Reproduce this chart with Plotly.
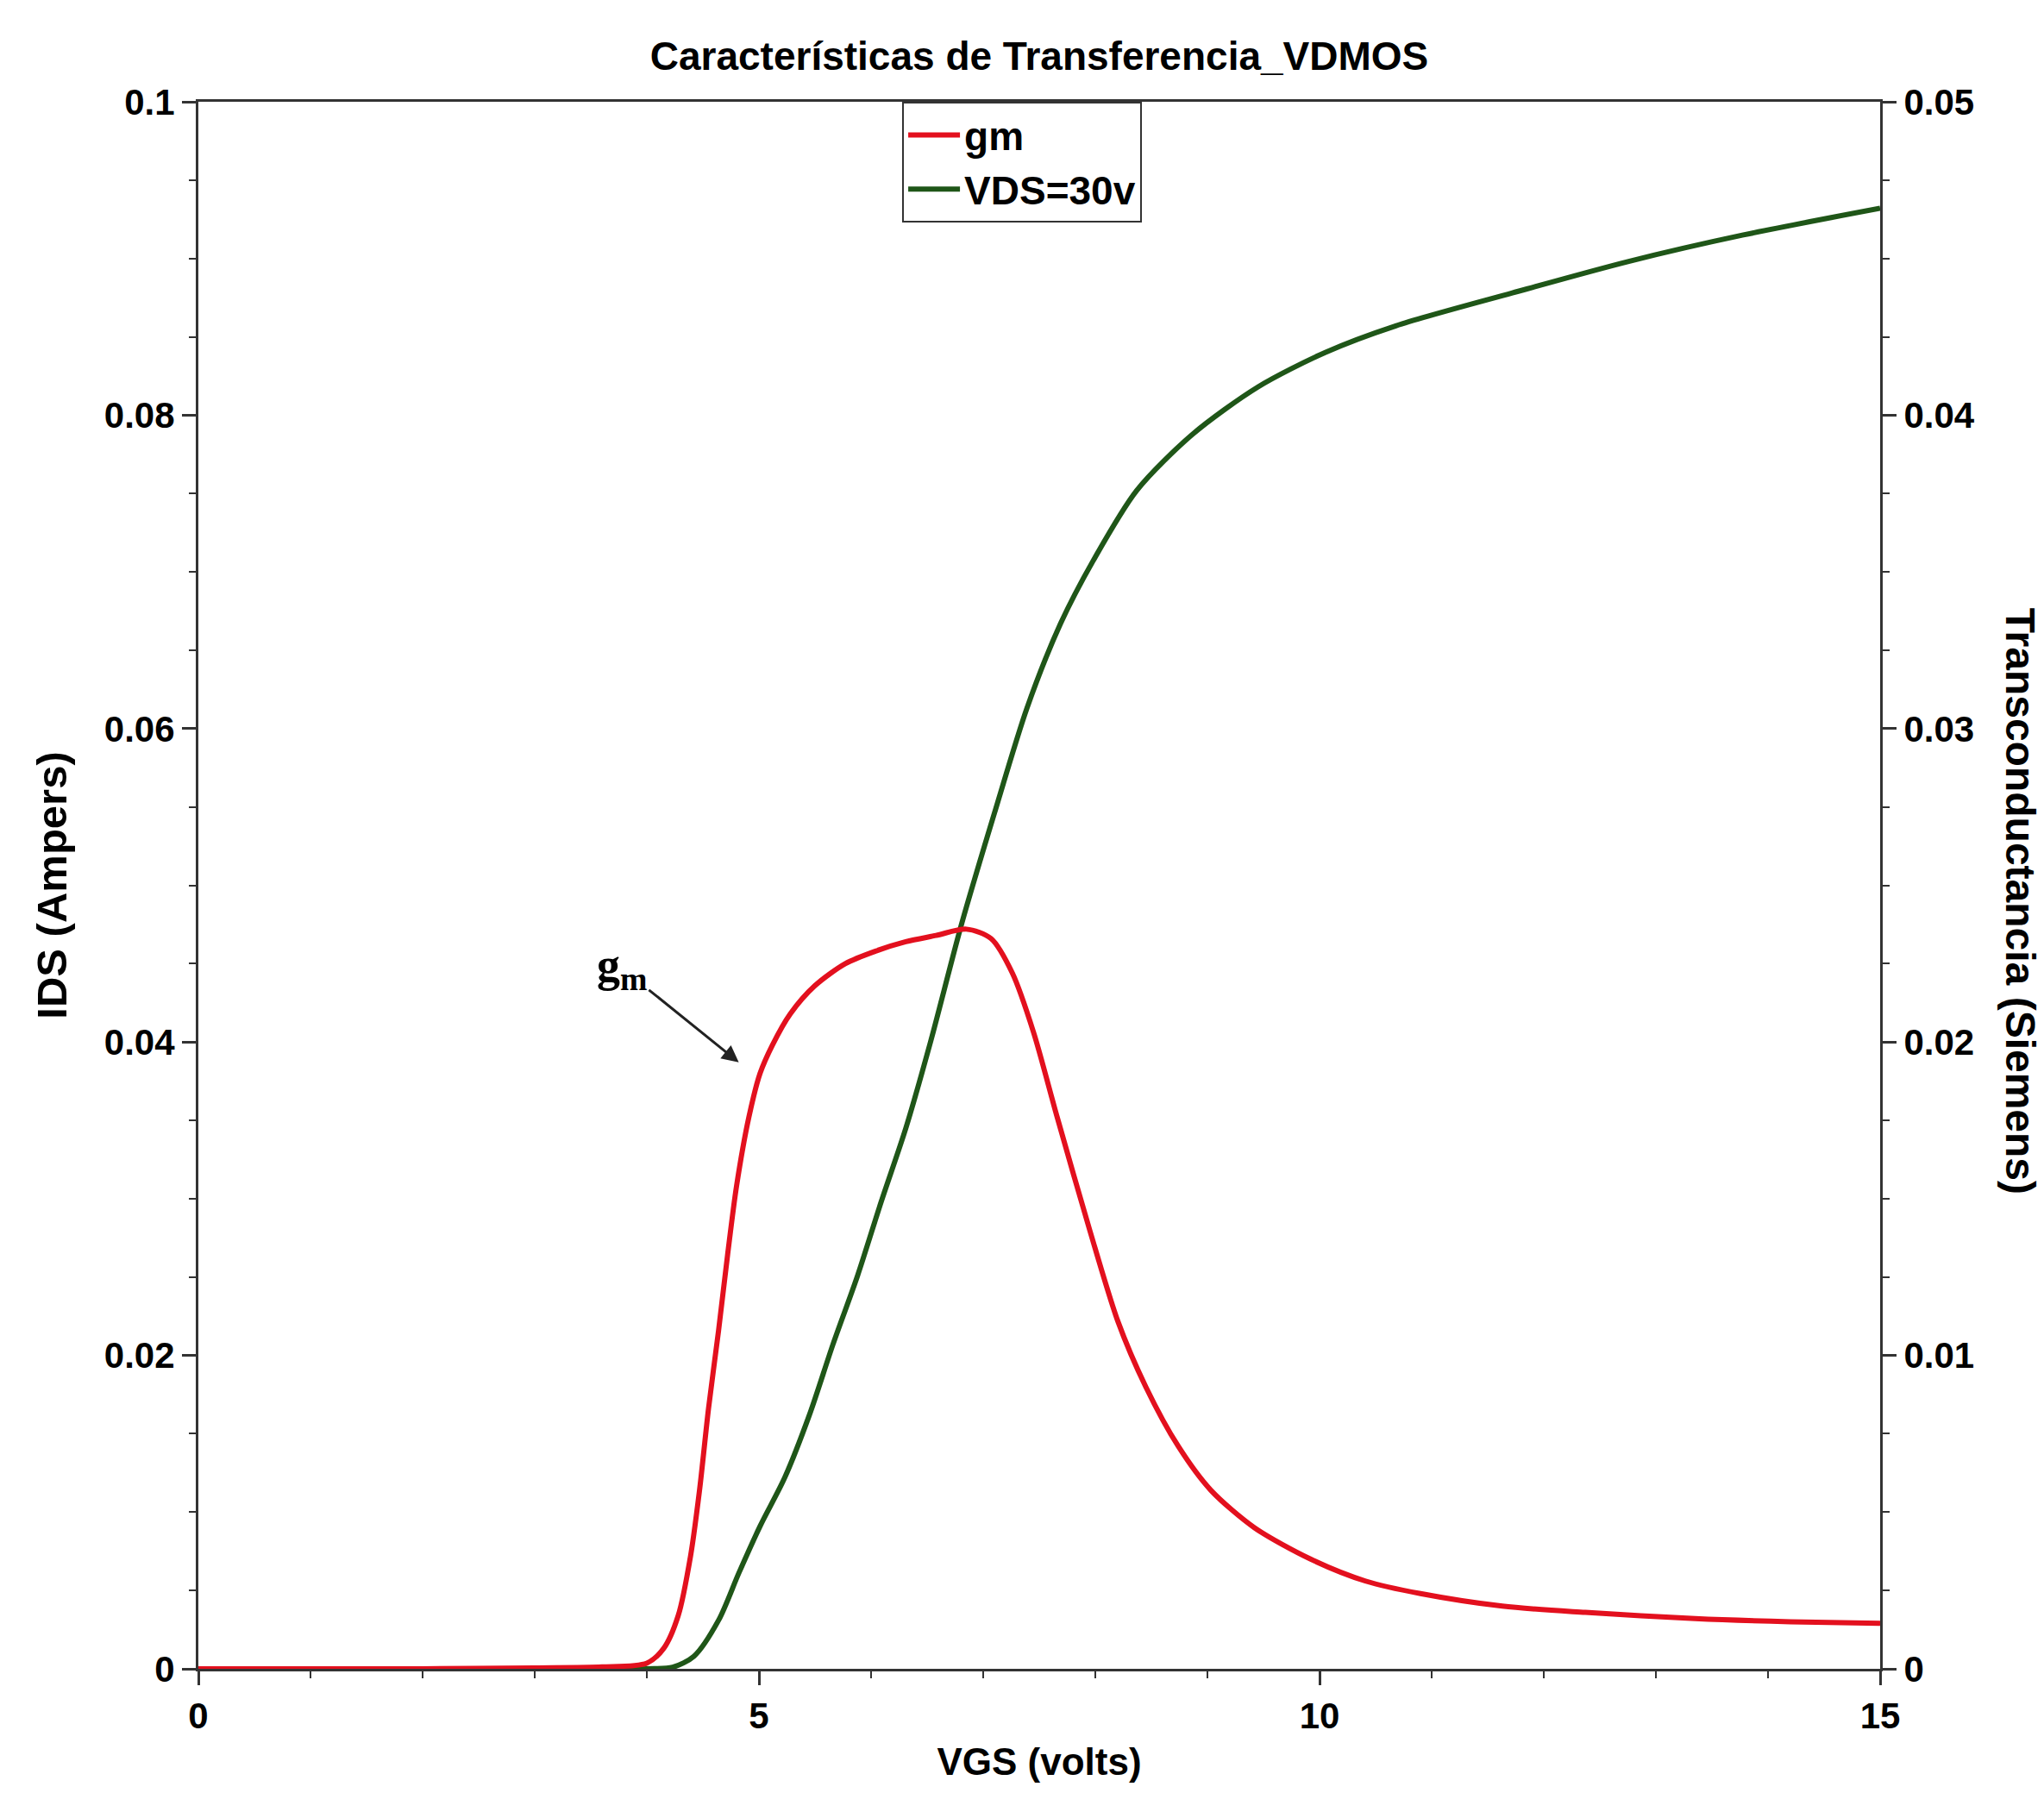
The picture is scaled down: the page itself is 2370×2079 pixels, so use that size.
import plotly.graph_objects as go

# ---- data ----
vgs_gm = [0, 1, 2, 3, 3.6, 4.0, 4.15, 4.28, 4.39, 4.47, 4.55, 4.64, 4.72, 4.80, 4.91,
          5.01, 5.12, 5.28, 5.5, 5.77, 6.04, 6.31, 6.58, 6.85, 7.07, 7.26, 7.45, 7.66,
          7.95, 8.2, 8.45, 8.74, 9.03, 9.42, 9.92, 10.41, 10.9, 11.63, 12.37, 13.35, 14.2, 15]
gm = [0, 0, 0, 0.00003, 0.00006, 0.00018, 0.00065, 0.0017, 0.0036, 0.0057, 0.0083, 0.0108,
      0.0132, 0.0154, 0.0176, 0.0190, 0.0199, 0.0209, 0.0218, 0.0225, 0.0229, 0.0232,
      0.0234, 0.0236, 0.0233, 0.0222, 0.0203, 0.0176, 0.0140, 0.0111, 0.0090, 0.0071,
      0.0057, 0.0045, 0.0035, 0.0028, 0.0024, 0.0020, 0.0018, 0.0016, 0.0015, 0.00145]

vgs_ids = [0, 2, 4.0, 4.23, 4.42, 4.64, 4.82, 5.01, 5.23, 5.45, 5.66, 5.88, 6.09, 6.31,
           6.53, 6.81, 7.10, 7.39, 7.69, 7.98, 8.37, 8.87, 9.45, 10.05, 10.68, 11.72,
           12.75, 13.78, 15]
ids = [0, 0, 0, 0.0001, 0.0008, 0.0031, 0.0061, 0.0091, 0.0122, 0.0162, 0.0207, 0.0251,
       0.0298, 0.0345, 0.0400, 0.0476, 0.0546, 0.0613, 0.0667, 0.0707, 0.0752, 0.0788,
       0.0818, 0.0840, 0.0857, 0.0878, 0.0898, 0.0915, 0.0932]

x_ticks = [0, 5, 10, 15]
y_ticks = [0, 0.02, 0.04, 0.06, 0.08, 0.1]
y2_ticks = [0, 0.01, 0.02, 0.03, 0.04, 0.05]

title_text = "Características de Transferencia_VDMOS"
x_title = "VGS (volts)"
y_title = "IDS (Ampers)"
y2_title = "Transconductancia (Siemens)"

FONT = "Liberation Sans"
AX = "#333333"

fig = go.Figure()
fig.add_trace(go.Scatter(x=vgs_gm, y=gm, name="gm", yaxis="y2", mode="lines",
                         line=dict(color="#e3101e", width=6, shape="spline", smoothing=0.8)))
fig.add_trace(go.Scatter(x=vgs_ids, y=ids, name="VDS=30v", yaxis="y", mode="lines",
                         line=dict(color="#1f5618", width=6, shape="spline", smoothing=0.8)))

axis_common = dict(showgrid=False, zeroline=False, ticks="outside", ticklen=16, tickwidth=3,
                   tickcolor=AX, linecolor=AX, linewidth=3, showline=True,
                   tickfont=dict(family=FONT, size=42, color="black", weight="bold"))

fig.update_layout(
    width=2370, height=2079,
    margin=dict(l=230, r=190, t=118, b=144),
    paper_bgcolor="white", plot_bgcolor="white",
    title=dict(text=title_text, x=0.5, xref="paper", y=0.969, yanchor="middle",
               font=dict(family=FONT, size=46, color="black", weight="bold")),
    xaxis=dict(range=[0, 15], tickvals=x_ticks, mirror=True,
               minor=dict(dtick=1, tick0=0, ticks="outside", ticklen=8, tickwidth=2, tickcolor=AX),
               title=dict(text=x_title, standoff=15,
                          font=dict(family=FONT, size=44, color="black", weight="bold")),
               **axis_common),
    yaxis=dict(range=[0, 0.1], tickvals=y_ticks,
               minor=dict(dtick=0.005, tick0=0, ticks="outside", ticklen=8, tickwidth=2, tickcolor=AX),
               title=dict(text=y_title, standoff=28,
                          font=dict(family=FONT, size=49, color="black", weight="bold")),
               **axis_common),
    yaxis2=dict(range=[0, 0.05], tickvals=y2_ticks, overlaying="y", side="right",
                minor=dict(dtick=0.0025, tick0=0, ticks="outside", ticklen=8, tickwidth=2, tickcolor=AX),
                **axis_common),
    legend=dict(x=0.4185, y=1, xanchor="left", yanchor="top", bgcolor="white",
                bordercolor=AX, borderwidth=2, itemwidth=60,
                font=dict(family=FONT, size=46, color="black", weight="bold")),
    showlegend=True,
)

fig.add_annotation(text=y2_title, xref="paper", yref="paper", x=1.0835, y=0.49,
                   xanchor="center", yanchor="middle",
                   textangle=90, showarrow=False,
                   font=dict(family=FONT, size=48, color="black", weight="bold"))

fig.add_annotation(text="g<sub>m</sub>", xref="x", yref="y", x=4.82, y=0.0387,
                   axref="x", ayref="y", ax=3.78, ay=0.0447,
                   showarrow=True, arrowhead=2, arrowsize=1.3, arrowwidth=3, arrowcolor="#222222",
                   font=dict(family="Liberation Serif", size=54, color="black", weight="bold"))

fig.write_html("out.html")
